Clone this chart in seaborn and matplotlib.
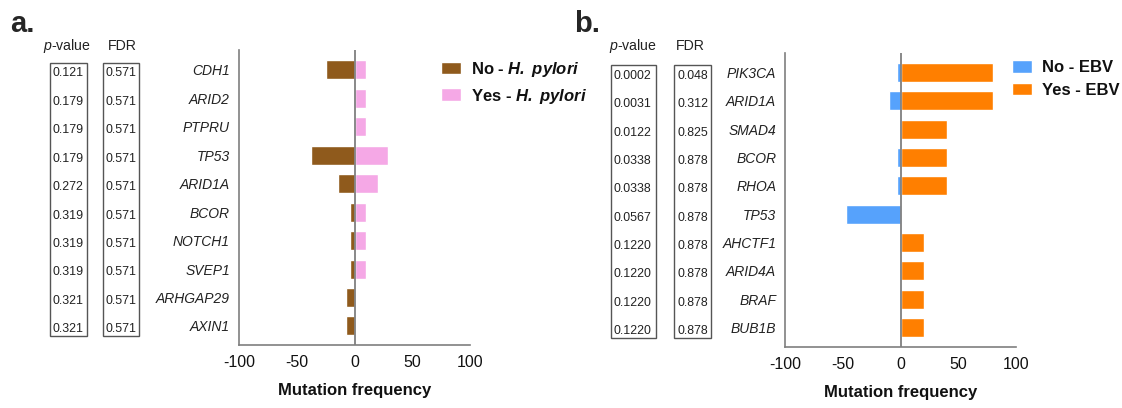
import numpy as np
import pandas as pd
import matplotlib
matplotlib.use("Agg")
import matplotlib.pyplot as plt
import matplotlib.transforms as mtransforms
from matplotlib.patches import Rectangle
import seaborn as sns

# ---------------- data ----------------
genes_a = ["CDH1", "ARID2", "PTPRU", "TP53", "ARID1A", "BCOR", "NOTCH1", "SVEP1", "ARHGAP29", "AXIN1"]
no_hp = [-25, 0, 0, -38, -14, -3.5, -3.5, -3.5, -7, -7]
yes_hp = [10, 10, 10, 29, 20, 10, 10, 10, 0, 0]
pval_a = ["0.121", "0.179", "0.179", "0.179", "0.272", "0.319", "0.319", "0.319", "0.321", "0.321"]
fdr_a = ["0.571"] * 10

genes_b = ["PIK3CA", "ARID1A", "SMAD4", "BCOR", "RHOA", "TP53", "AHCTF1", "ARID4A", "BRAF", "BUB1B"]
no_ebv = [-3, -10, 0, -3, -3, -47, 0, 0, 0, 0]
yes_ebv = [80, 80, 40, 40, 40, 0, 20, 20, 20, 20]
pval_b = ["0.0002", "0.0031", "0.0122", "0.0338", "0.0338", "0.0567", "0.1220", "0.1220", "0.1220", "0.1220"]
fdr_b = ["0.048", "0.312", "0.825", "0.878", "0.878", "0.878", "0.878", "0.878", "0.878", "0.878"]

xticks = [-100, -50, 0, 50, 100]
xlabel = "Mutation frequency"
labels_a = ["No - ", "Yes - "]
italic_a = "H.\\ pylori"
labels_b = ["No - EBV", "Yes - EBV"]
colors_a = ["#8F5A1C", "#F5A8E6"]
colors_b = ["#56A2FC", "#FF7F00"]

# ---------------- style ----------------
sns.set_theme(style="white")
plt.rcParams["font.family"] = ["Liberation Sans", "DejaVu Sans"]
plt.rcParams["mathtext.fontset"] = "custom"
plt.rcParams["mathtext.rm"] = "Liberation Sans"
plt.rcParams["mathtext.it"] = "Liberation Sans:italic"
plt.rcParams["mathtext.bf"] = "Liberation Sans:bold"
plt.rcParams["mathtext.bfit"] = "Liberation Sans:italic:bold"

W, H = 1122, 408
fig = plt.figure(figsize=(W / 100, H / 100), dpi=100)

SPINE = "#7f7f7f"


def px2fx(x):
    return x / W


def px2fy(y):
    return 1 - y / H


def make_panel(rect, genes, no_vals, yes_vals, colors, pvals, fdrs, box_p, box_f, hdr_p, hdr_f, legend_x, legend_labels, italic=None):
    ax = fig.add_axes(rect)
    df = pd.DataFrame({
        "gene": genes * 2,
        "value": list(no_vals) + list(yes_vals),
        "group": ["No"] * len(genes) + ["Yes"] * len(genes),
    })
    sns.barplot(data=df, x="value", y="gene", hue="group", order=genes,
                hue_order=["No", "Yes"], palette=colors, dodge=False,
                orient="h", width=0.67, ax=ax, legend=False, saturation=1)
    ax.set_xlim(-100, 100)
    ax.set_ylim(len(genes) - 1 + 0.67, -0.70)
    ax.set_xticks(xticks)
    ax.set_xticklabels([str(t) for t in xticks], fontsize=11.5, color="#111111")
    ax.set_yticks(range(len(genes)))
    ax.set_yticklabels(genes, fontsize=10, style="italic", color="#222222")
    ax.axvline(0, color=SPINE, lw=1.3, zorder=5)
    for s in ["top", "right"]:
        ax.spines[s].set_visible(False)
    for s in ["left", "bottom"]:
        ax.spines[s].set_color(SPINE)
        ax.spines[s].set_linewidth(1.2)
    ax.tick_params(axis="both", which="both", direction="out", length=4.5,
                   width=1.0, color=SPINE)
    ax.tick_params(axis="y", pad=2)
    ax.tick_params(axis="x", pad=3)
    ax.set_xlabel(xlabel, fontsize=12, fontweight="bold", labelpad=9, color="#111111")
    ax.set_ylabel("")

    # table boxes (x in figure coords, y in data coords)
    tr = mtransforms.blended_transform_factory(fig.transFigure, ax.transData)
    for (x0, x1), vals in [(box_p, pvals), (box_f, fdrs)]:
        r = Rectangle((px2fx(x0), -0.26), px2fx(x1) - px2fx(x0), 9.61,
                      transform=tr, fill=False, edgecolor="#555555", lw=1.0,
                      clip_on=False)
        fig.add_artist(r)
        for i, v in enumerate(vals):
            fig.text(px2fx(x0 + 3), i + 0.12, v, transform=tr, fontsize=8.9,
                     ha="left", va="center", color="#222222")
    fig.text(px2fx(hdr_p), px2fy(46), r"$\it{p}$-value", fontsize=10.2,
             ha="center", va="center", color="#222222")
    fig.text(px2fx(hdr_f), px2fy(46), "FDR", fontsize=10.2,
             ha="center", va="center", color="#222222")

    # legend
    handles = [ax.containers[0], ax.containers[1]]
    if italic is not None:
        labs = [legend_labels[0] + r"$\mathbfit{" + italic + "}$",
                legend_labels[1] + r"$\mathbfit{" + italic + "}$"]
    else:
        labs = legend_labels
    leg = ax.legend(handles, labs, loc="upper left",
                    bbox_to_anchor=(px2fx(legend_x), px2fy(60)),
                    bbox_transform=fig.transFigure, frameon=False,
                    prop={"weight": "bold", "size": 12}, handlelength=1.2,
                    handleheight=0.78, handletextpad=0.6, labelspacing=0.45,
                    borderpad=0, borderaxespad=0)
    for t in leg.get_texts():
        t.set_color("#111111")
    return ax


ax_a = make_panel([px2fx(239), px2fy(345), px2fx(470) - px2fx(239), (345 - 50) / H],
                  genes_a, no_hp, yes_hp, colors_a, pval_a, fdr_a,
                  (50, 87), (103, 139), 67, 122, 441, labels_a, italic=italic_a)
ax_b = make_panel([px2fx(785.3), px2fy(346.7), px2fx(1016) - px2fx(785.3), (346.7 - 52.5) / H],
                  genes_b, no_ebv, yes_ebv, colors_b, pval_b, fdr_b,
                  (611, 656), (674, 711), 633, 690, 1011.7, labels_b)

fig.text(px2fx(10), px2fy(32), "a.", fontsize=21, fontweight="bold", ha="left", va="baseline")
fig.text(px2fx(574), px2fy(32), "b.", fontsize=21, fontweight="bold", ha="left", va="baseline")

fig.savefig("out.png", dpi=100)
